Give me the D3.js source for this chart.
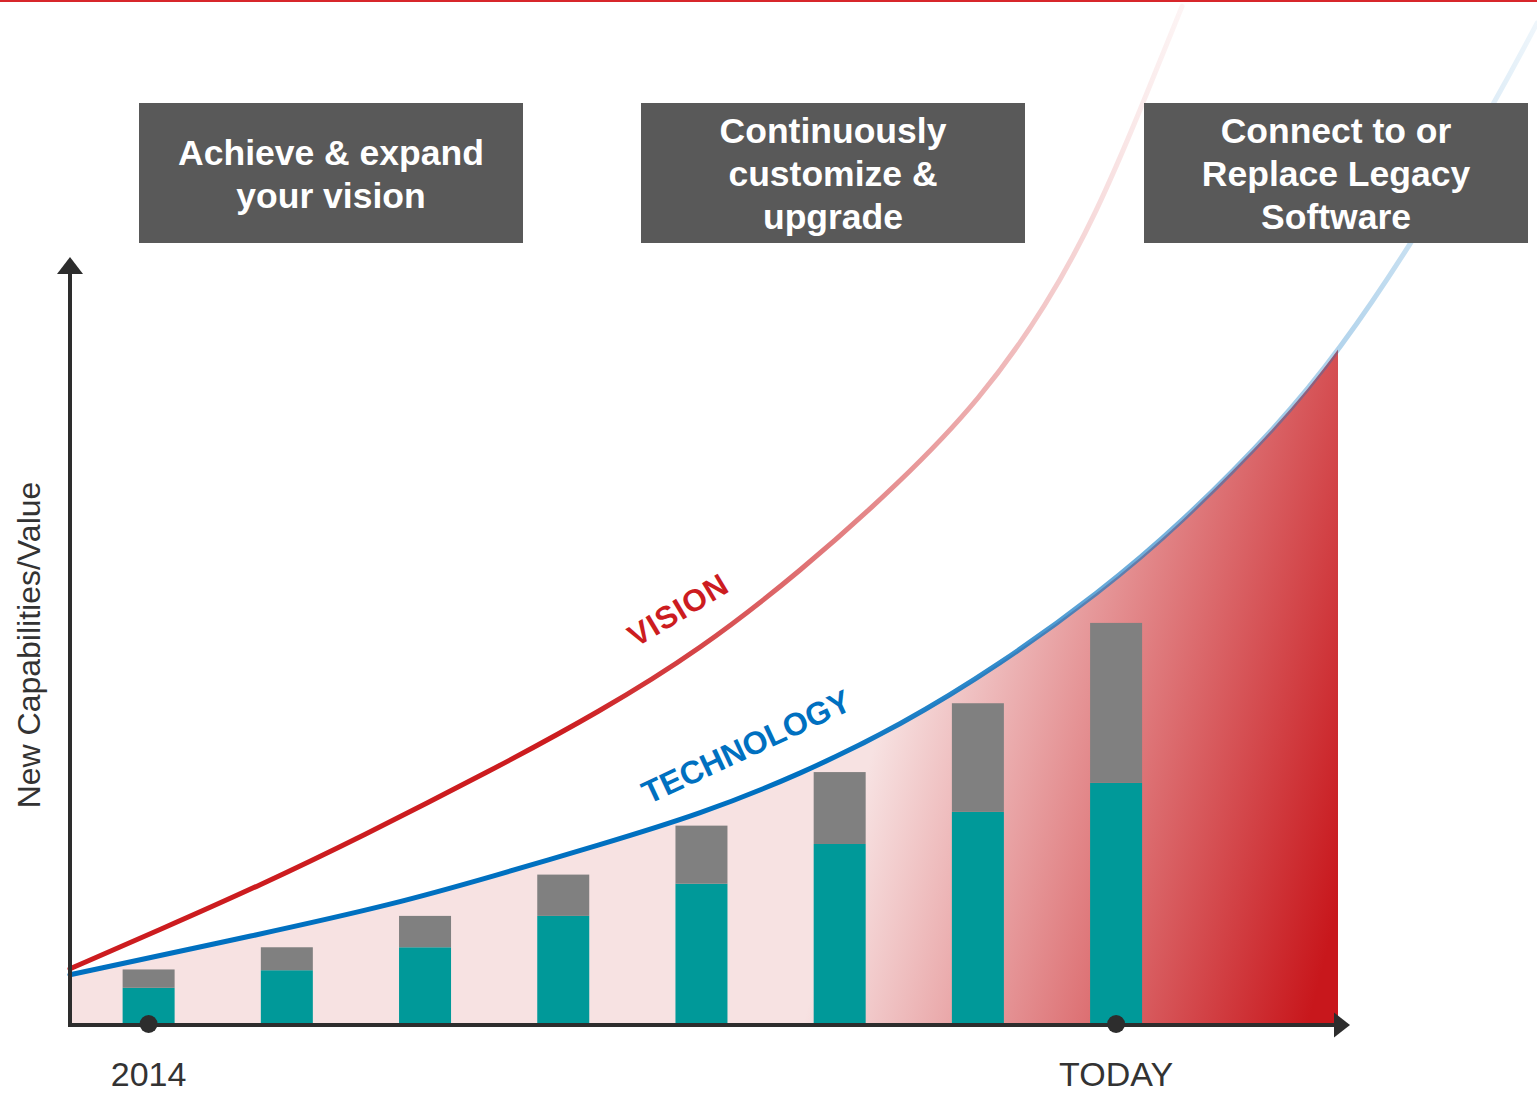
<!DOCTYPE html>
<html>
<head>
<meta charset="utf-8">
<script src="https://cdn.jsdelivr.net/npm/d3@7"></script>
<style>
  html, body { margin: 0; padding: 0; background: #ffffff; }
  svg { display: block; }
</style>
</head>
<body>
<div id="chart"></div>
<script>
// values, x and y both in 0-100 "axis units"
const barPos = [6.2, 17.1, 28.0, 38.9, 49.8, 60.7, 71.6, 82.5];
const tealValues = [4.6, 6.9, 9.9, 14.0, 18.2, 23.4, 27.6, 31.4];
const greyValues = [2.4, 3.0, 4.1, 5.4, 7.6, 9.4, 14.2, 20.9];

const visionX = [0, 7.1, 15.0, 22.9, 33.1, 41.8, 49.7, 57.6, 65.5, 71.8, 77.1, 81.0, 84.4, 87.7];
const visionY = [7.1, 12.2, 18.0, 24.3, 32.9, 40.7, 48.8, 59.0, 70.7, 81.5, 93.9, 106.0, 119.3, 132.9];

const techX = [0, 15.0, 25.5, 33.4, 41.8, 49.7, 57.6, 65.5, 73.3, 81.2, 87.5, 95.4, 100, 105.9, 112.5, 115.7];
const techY = [6.3, 11.6, 15.5, 19.2, 23.3, 27.3, 32.5, 38.9, 46.8, 56.3, 65.1, 78.3, 87.7, 102.0, 120.7, 130.7];

const tickPos = [6.2, 82.5];
const tickLabels = ["2014", "TODAY"];

const boxLabels = [
    ["Achieve & expand", "your vision"],
    ["Continuously", "customize &", "upgrade"],
    ["Connect to or", "Replace Legacy", "Software"]
];

const width = 1537;
const height = 1093;
const font = "'Liberation Sans', Arial, sans-serif";

const svg = d3.select("#chart").append("svg")
    .attr("width", width)
    .attr("height", height)
    .attr("viewBox", `0 0 ${width} ${height}`);

const x = d3.scaleLinear().domain([0, 100]).range([70, 1338]);
const y = d3.scaleLinear().domain([0, 100]).range([1023, 258]);

const defs = svg.append("defs");

// area fill: flat pink turning deep red towards the bottom right
const areaGrad = defs.append("linearGradient")
    .attr("id", "areaGrad")
    .attr("gradientUnits", "userSpaceOnUse")
    .attr("x1", 870).attr("y1", 760)
    .attr("x2", 1345).attr("y2", 880);
areaGrad.append("stop").attr("offset", "0%").attr("stop-color", "#f7e2e2");
areaGrad.append("stop").attr("offset", "100%").attr("stop-color", "#c8171c");

// clip the area at the end of the x axis
defs.append("clipPath")
    .attr("id", "areaClip")
    .append("rect")
    .attr("x", x(0))
    .attr("y", 0)
    .attr("width", x(100) - x(0))
    .attr("height", y(0));

// vision line fades out as it climbs
const visionGrad = defs.append("linearGradient")
    .attr("id", "visionGrad")
    .attr("gradientUnits", "userSpaceOnUse")
    .attr("x1", 560).attr("y1", 0)
    .attr("x2", 1190).attr("y2", 0);
[[0, 1], [0.22, 0.82], [0.38, 0.63], [0.67, 0.35], [0.855, 0.15], [0.92, 0.09], [1, 0.04]].forEach(s => {
    visionGrad.append("stop")
        .attr("offset", s[0])
        .attr("stop-color", "#cc1c1f")
        .attr("stop-opacity", s[1]);
});

const techGrad = defs.append("linearGradient")
    .attr("id", "techGrad")
    .attr("gradientUnits", "userSpaceOnUse")
    .attr("x1", 820).attr("y1", 0)
    .attr("x2", 1540).attr("y2", 0);
[[0, 1], [0.11, 0.9], [0.25, 0.8], [0.39, 0.6], [0.5, 0.52], [0.64, 0.37], [0.72, 0.3], [0.82, 0.22], [0.94, 0.12], [1, 0.06]].forEach(s => {
    techGrad.append("stop")
        .attr("offset", s[0])
        .attr("stop-color", "#0070c0")
        .attr("stop-opacity", s[1]);
});

// thin red rule along the top
svg.append("rect")
    .attr("x", 0).attr("y", 0)
    .attr("width", width).attr("height", 2)
    .attr("fill", "#d7262b");

const visionPts = visionX.map((v, i) => [v, visionY[i]]);
const techPts = techX.map((v, i) => [v, techY[i]]);

const line = d3.line()
    .x(d => x(d[0]))
    .y(d => y(d[1]))
    .curve(d3.curveBasis);

const area = d3.area()
    .x(d => x(d[0]))
    .y0(y(0))
    .y1(d => y(d[1]))
    .curve(d3.curveBasis);

svg.append("path")
    .datum(techPts)
    .attr("d", area)
    .attr("clip-path", "url(#areaClip)")
    .attr("fill", "url(#areaGrad)");

// stacked bars
const barW = 52;
const bars = svg.append("g");
barPos.forEach((p, i) => {
    bars.append("rect")
        .attr("x", x(p) - barW / 2)
        .attr("y", y(tealValues[i]))
        .attr("width", barW)
        .attr("height", y(0) - y(tealValues[i]))
        .attr("fill", "#009999");
    bars.append("rect")
        .attr("x", x(p) - barW / 2)
        .attr("y", y(tealValues[i] + greyValues[i]))
        .attr("width", barW)
        .attr("height", y(tealValues[i]) - y(tealValues[i] + greyValues[i]))
        .attr("fill", "#808080");
});

svg.append("path")
    .datum(techPts)
    .attr("d", line)
    .attr("fill", "none")
    .attr("stroke", "url(#techGrad)")
    .attr("stroke-width", 5)
    .attr("stroke-linecap", "round");

svg.append("path")
    .datum(visionPts)
    .attr("d", line)
    .attr("fill", "none")
    .attr("stroke", "url(#visionGrad)")
    .attr("stroke-width", 5)
    .attr("stroke-linecap", "round");

// curve labels
svg.append("text")
    .attr("transform", `translate(${x(48.4)},${y(52.8)}) rotate(-31)`)
    .attr("text-anchor", "middle")
    .attr("fill", "#cc1c1f")
    .style("font-family", font)
    .style("font-size", "31px")
    .style("font-weight", "bold")
    .style("letter-spacing", "1px")
    .text("VISION");

svg.append("text")
    .attr("transform", `translate(${x(53.7)},${y(34.8)}) rotate(-25)`)
    .attr("text-anchor", "middle")
    .attr("fill", "#0070c0")
    .style("font-family", font)
    .style("font-size", "32px")
    .style("font-weight", "bold")
    .text("TECHNOLOGY");

// axes with arrowheads
const axisColor = "#2d2d2d";
svg.append("line")
    .attr("x1", x(0)).attr("y1", y(0) + 4)
    .attr("x2", x(0)).attr("y2", 272)
    .attr("stroke", axisColor)
    .attr("stroke-width", 4);
svg.append("polygon")
    .attr("points", `${x(0)},257 ${x(0) - 13},274 ${x(0) + 13},274`)
    .attr("fill", axisColor);

svg.append("line")
    .attr("x1", x(0) - 2).attr("y1", y(0) + 2)
    .attr("x2", x(100)).attr("y2", y(0) + 2)
    .attr("stroke", axisColor)
    .attr("stroke-width", 4);
svg.append("polygon")
    .attr("points", `${x(100) + 12},${y(0) + 2} ${x(100) - 4},${y(0) - 10.5} ${x(100) - 4},${y(0) + 14.5}`)
    .attr("fill", axisColor);

tickPos.forEach((p, i) => {
    svg.append("circle")
        .attr("cx", x(p))
        .attr("cy", y(0) + 1)
        .attr("r", 9)
        .attr("fill", axisColor);

    svg.append("text")
        .attr("x", x(p))
        .attr("y", 1086)
        .attr("text-anchor", "middle")
        .attr("fill", "#333333")
        .style("font-family", font)
        .style("font-size", "34px")
        .text(tickLabels[i]);
});

svg.append("text")
    .attr("transform", "translate(40,645) rotate(-90)")
    .attr("text-anchor", "middle")
    .attr("fill", "#333333")
    .style("font-family", font)
    .style("font-size", "32px")
    .text("New Capabilities/Value");

// dark header boxes, drawn over the faded curves
const boxX = [139, 641, 1144];
const boxW = 384;
boxLabels.forEach((lines, i) => {
    svg.append("rect")
        .attr("x", boxX[i])
        .attr("y", 103)
        .attr("width", boxW)
        .attr("height", 140)
        .attr("fill", "#595959");

    const firstBase = lines.length === 3 ? 143 : 164.5;
    lines.forEach((t, j) => {
        svg.append("text")
            .attr("x", boxX[i] + boxW / 2)
            .attr("y", firstBase + j * 43)
            .attr("text-anchor", "middle")
            .attr("fill", "#ffffff")
            .style("font-family", font)
            .style("font-size", "35.5px")
            .style("font-weight", "bold")
            .text(t);
    });
});
</script>
</body>
</html>
